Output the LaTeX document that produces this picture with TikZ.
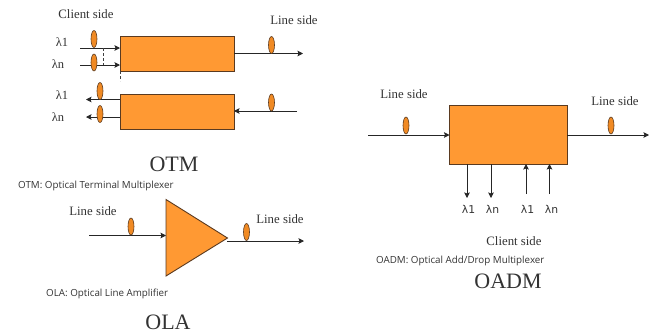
\documentclass[tikz,border=0pt]{standalone}
\usepackage{fontspec}
\setmainfont{Liberation Serif}
\newfontfamily\legendfont{Open Sans}
\newfontfamily\lamfont{DejaVu Sans}
\usetikzlibrary{shapes.geometric,arrows.meta}
\definecolor{boxorange}{HTML}{FF9933}
\definecolor{ovalorange}{HTML}{F08A24}
\definecolor{boxedge}{HTML}{5A3A20}
\definecolor{inktext}{HTML}{333333}
\tikzset{
  x=1pt,y=-1pt,
  blockbox/.style={draw=boxedge,line width=0.9pt,fill=boxorange,minimum width=#1,inner sep=0pt,outer sep=0pt},
  ovalmark/.style={ellipse,draw=boxedge,line width=0.6pt,fill=ovalorange,minimum width=6pt,minimum height=17pt,inner sep=0pt},
  fibre/.style={draw=black!85,line width=0.8pt,-{Stealth[length=5.5pt,width=5.5pt,inset=1pt]}},
  plainline/.style={draw=black!75,line width=0.6pt,densely dashed},
  sidelabel/.style={text=inktext,font=\fontsize{12.8}{14}\selectfont,inner sep=0pt},
  biglabel/.style={text=inktext,font=\fontsize{22}{24}\selectfont,inner sep=0pt},
  legendlabel/.style={text=inktext,font=\legendfont\fontsize{9.8}{11}\selectfont,inner sep=0pt,anchor=west},
  lamserif/.style={text=inktext,font=\fontsize{12.5}{14}\selectfont,inner sep=0pt},
  lamsans/.style={text=inktext,font=\lamfont\fontsize{10.8}{12}\selectfont,inner sep=0pt},
}
\begin{document}
\begin{tikzpicture}
\useasboundingbox (0,0) rectangle (659,333);
% OTM
\node[blockbox=114pt,minimum height=35pt] (otma) at (177,53.5) {};
\node[blockbox=114pt,minimum height=35pt] (otmb) at (177,111.5) {};
\coordinate (a1s) at (80,48); \coordinate (a1e) at (otma.west |- a1s);
\coordinate (a2s) at (80,65); \coordinate (a2e) at (otma.west |- a2s);
\coordinate (a3e) at (303,53.5); \coordinate (a3s) at (otma.east);
\coordinate (b1e) at (86,99.5); \coordinate (b1s) at (otmb.west |- b1e);
\coordinate (b2e) at (86,117); \coordinate (b2s) at (otmb.west |- b2e);
\coordinate (b3s) at (297,111); \coordinate (b3e) at (otmb.east |- b3s);
\draw[fibre] (a1s) -- (a1e);
\draw[fibre] (a2s) -- (a2e);
\draw[fibre] (a3s) -- (a3e);
\draw[fibre] (b1s) -- (b1e);
\draw[fibre] (b2s) -- (b2e);
\draw[fibre] (b3s) -- (b3e);
\coordinate (d1a) at (103,48); \coordinate (d1b) at (103,65);
\coordinate (d2a) at (120,71); \coordinate (d2b) at (120,81);
\draw[plainline] (d1a) -- (d1b);
\draw[plainline] (d2a) -- (d2b);
\node[ovalmark] (oa1) at (94,39) {};
\node[ovalmark] (oa2) at (94,62.5) {};
\node[ovalmark] (oa3) at (271.5,45) {};
\node[ovalmark] (ob1) at (100,91) {};
\node[ovalmark] (ob2) at (100,114) {};
\node[ovalmark] (ob3) at (271.5,102.5) {};
\node[sidelabel] (tclient) at (86,14.5) {Client side};
\node[sidelabel] (tline1) at (294,20.5) {Line side};
\node[lamserif] (l1) at (62,42) {λ1};
\node[lamserif] (l2) at (58,64.5) {λn};
\node[lamserif] (l3) at (62,95.5) {λ1};
\node[lamserif] (l4) at (58,117) {λn};
\node[biglabel] (totm) at (174,164) {OTM};
\node[legendlabel] (lotm) at (18,185.5) {OTM: Optical Terminal Multiplexer};
% OLA
\coordinate (tria) at (166,199.5); \coordinate (trib) at (166,276); \coordinate (tric) at (227.5,238);
\draw[fill=boxorange,draw=boxedge,line width=0.9pt] (tria) -- (tric) -- (trib) -- cycle;
\coordinate (c1s) at (89,235.5); \coordinate (c1e) at (166,235.5);
\coordinate (c2s) at (227,241); \coordinate (c2e) at (304,241);
\draw[fibre] (c1s) -- (c1e);
\draw[fibre] (c2s) -- (c2e);
\node[ovalmark] (oc1) at (131,226.5) {};
\node[ovalmark] (oc2) at (246.5,232) {};
\node[sidelabel] (tline2) at (93,211.5) {Line side};
\node[sidelabel] (tline3) at (280,219) {Line side};
\node[legendlabel] (lola) at (46,294) {OLA: Optical Line Amplifier};
\node[biglabel] (tola) at (168,322) {OLA};
% OADM
\node[blockbox=117.5pt,minimum height=59pt] (oadm) at (508.25,134.5) {};
\coordinate (e1s) at (368,135); \coordinate (e1e) at (oadm.west |- e1s);
\coordinate (e2s) at (oadm.east |- e1s); \coordinate (e2e) at (649,135);
\draw[fibre] (e1s) -- (e1e);
\draw[fibre] (e2s) -- (e2e);
\coordinate (f1e) at (467,198); \coordinate (f1s) at (oadm.south -| f1e);
\coordinate (f2e) at (491,198); \coordinate (f2s) at (oadm.south -| f2e);
\coordinate (f3s) at (526,194); \coordinate (f3e) at (oadm.south -| f3s);
\coordinate (f4s) at (549.5,194); \coordinate (f4e) at (oadm.south -| f4s);
\draw[fibre] (f1s) -- (f1e);
\draw[fibre] (f2s) -- (f2e);
\draw[fibre] (f3s) -- (f3e);
\draw[fibre] (f4s) -- (f4e);
\node[ovalmark] (oe1) at (406,125.5) {};
\node[ovalmark] (oe2) at (611,125.5) {};
\node[sidelabel] (tline4) at (404,94.5) {Line side};
\node[sidelabel] (tline5) at (615,101) {Line side};
\node[lamsans] (m1) at (468.5,209.5) {λ1};
\node[lamsans] (m2) at (492.5,209.5) {λn};
\node[lamsans] (m3) at (527.5,209.5) {λ1};
\node[lamsans] (m4) at (551.5,209.5) {λn};
\node[sidelabel] (tclient2) at (514,241) {Client side};
\node[legendlabel] (loadm) at (376,260.5) {OADM: Optical Add/Drop Multiplexer};
\node[biglabel] (toadm) at (508,281) {OADM};
\end{tikzpicture}
\end{document}
